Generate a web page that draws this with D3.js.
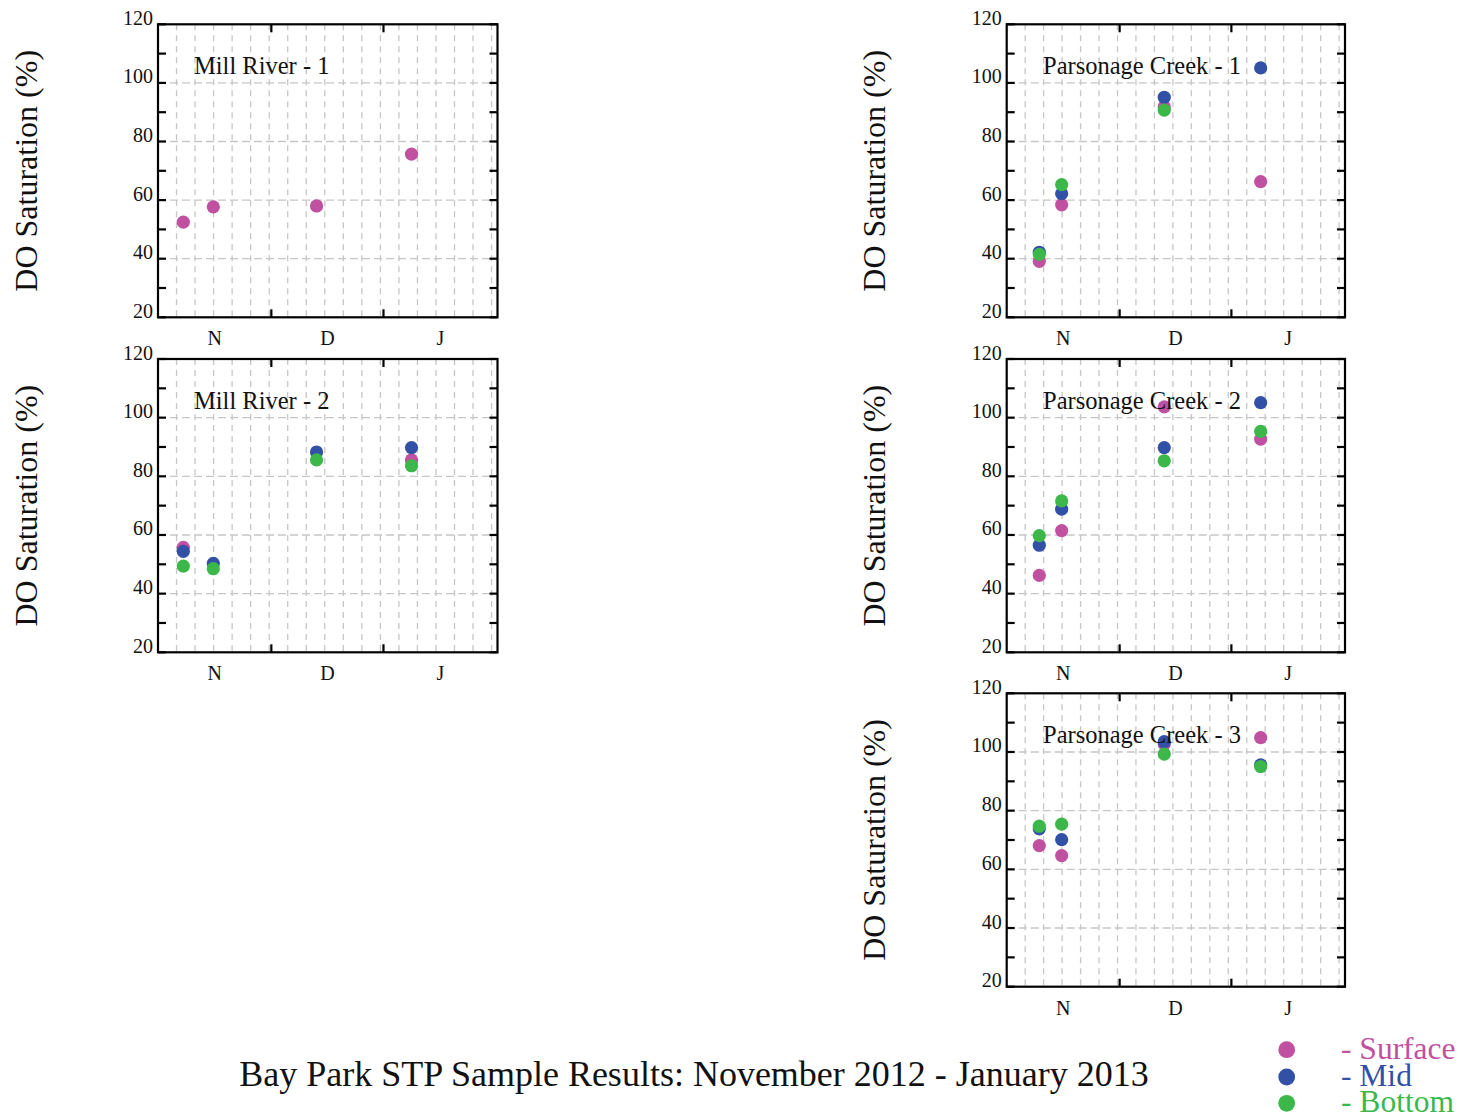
<!DOCTYPE html>
<html>
<head>
<meta charset="utf-8">
<script src="https://cdn.jsdelivr.net/npm/d3@7"></script>
<style>
  html, body { margin: 0; padding: 0; background: #fff; }
  svg { display: block; font-family: "Liberation Serif", "Times New Roman", serif; }
</style>
</head>
<body>
<svg id="chart" width="1465" height="1119"></svg>
<script>
// ---------------- data ----------------
const monthLabels = ["N", "D", "J"];
const monthStarts = ["2012-12-01T00:00Z", "2013-01-01T00:00Z"];
const xDomain = ["2012-10-30T16:00Z", "2013-02-01T12:30Z"];
const yTickValues = [20, 30, 40, 50, 60, 70, 80, 90, 100, 110, 120];
const yLabelValues = [20, 40, 60, 80, 100, 120];
const yGridValues = [40, 60, 80, 100];
const xGridSteps = [1, 2, 3, 4, 5, 6, 7, 8, 9, 10, 11, 12, 13, 14, 15, 16, 17, 18];

const millDates = ["2012-11-06T16:00Z", "2012-11-14T23:00Z", "2012-12-13T12:00Z", "2013-01-08T18:00Z"];
const parsonageDates = ["2012-11-08T17:00Z", "2012-11-14T22:00Z", "2012-12-13T09:00Z", "2013-01-09T03:00Z"];

const mill1Surface = [52.5, 57.7, 58.0, 75.7];

const mill2Surface = [55.8, null, null, 85.6];
const mill2Mid     = [54.4, 50.3, 88.3, 89.8];
const mill2Bottom  = [49.4, 48.5, 85.6, 83.6];

const pc1Surface = [39.1, 58.4, 91.9, 66.3];
const pc1Mid     = [42.2, 62.2, 95.1, 105.1];
const pc1Bottom  = [41.5, 65.3, 90.7, null];

const pc2Surface = [46.2, 61.5, 103.7, 92.7];
const pc2Mid     = [56.5, 68.8, 89.8, 105.1];
const pc2Bottom  = [59.8, 71.6, 85.3, 95.3];

const pc3Surface = [68.1, 64.7, 102.7, 104.9];
const pc3Mid     = [73.8, 70.1, 103.5, 95.6];
const pc3Bottom  = [74.7, 75.4, 99.3, 95.0];

const seriesNames = ["Surface", "Mid", "Bottom"];
const seriesColors = ["#c050a0", "#3350a7", "#3cb84a"];

const chartTitle = "Bay Park STP Sample Results: November 2012 - January 2013";
const yAxisTitle = "DO Saturation (%)";

// ---------------- layout ----------------
const panels = [
  { title: "Mill River - 1", x0: 158, x1: 497.5, y0: 24.3, y1: 317.3, dates: millDates,
    series: [mill1Surface, null, null], titleX: 194 },
  { title: "Mill River - 2", x0: 158, x1: 497.5, y0: 359, y1: 652.3, dates: millDates,
    series: [mill2Surface, mill2Mid, mill2Bottom], titleX: 194 },
  { title: "Parsonage Creek - 1", x0: 1006.7, x1: 1345, y0: 24.3, y1: 317.3, dates: parsonageDates,
    series: [pc1Surface, pc1Mid, pc1Bottom], titleX: 1043 },
  { title: "Parsonage Creek - 2", x0: 1006.7, x1: 1345, y0: 359, y1: 652.3, dates: parsonageDates,
    series: [pc2Surface, pc2Mid, pc2Bottom], titleX: 1043 },
  { title: "Parsonage Creek - 3", x0: 1006.7, x1: 1345, y0: 693.3, y1: 986.7, dates: parsonageDates,
    series: [pc3Surface, pc3Mid, pc3Bottom], titleX: 1043 }
];

const svg = d3.select("#chart");
const parse = s => new Date(s);

panels.forEach(p => {
  const x = d3.scaleUtc().domain(xDomain.map(parse)).range([p.x0, p.x1]);
  const y = d3.scaleLinear().domain([20, 120]).range([p.y1, p.y0]);
  const gx = d3.scaleLinear().domain([0, 18.32]).range([p.x0, p.x1]);
  const g = svg.append("g");

  // grid
  g.selectAll(".vg").data(xGridSteps).join("line")
    .attr("x1", d => gx(d)).attr("x2", d => gx(d))
    .attr("y1", p.y0).attr("y2", p.y1)
    .attr("stroke", "#c6c6c6").attr("stroke-width", 1.3).attr("stroke-dasharray", "6,5");
  g.selectAll(".hg").data(yGridValues).join("line")
    .attr("x1", p.x0).attr("x2", p.x1)
    .attr("y1", d => y(d)).attr("y2", d => y(d))
    .attr("stroke", "#c6c6c6").attr("stroke-width", 1.3).attr("stroke-dasharray", "8,4");

  // points
  p.series.forEach((vals, si) => {
    if (!vals) return;
    const pts = vals.map((v, i) => ({ v, d: parse(p.dates[i]) })).filter(o => o.v != null);
    g.selectAll(null).data(pts).join("circle")
      .attr("cx", o => x(o.d)).attr("cy", o => y(o.v)).attr("r", 6.6)
      .attr("fill", seriesColors[si]);
  });

  // frame
  g.append("rect").attr("x", p.x0).attr("y", p.y0)
    .attr("width", p.x1 - p.x0).attr("height", p.y1 - p.y0)
    .attr("fill", "none").attr("stroke", "#000").attr("stroke-width", 2.2);

  // y ticks (left inward & right inward)
  const tl = 8;
  g.selectAll(".ytl").data(yTickValues).join("line")
    .attr("x1", p.x0).attr("x2", p.x0 + tl)
    .attr("y1", d => y(d)).attr("y2", d => y(d))
    .attr("stroke", "#000").attr("stroke-width", 2.2);
  g.selectAll(".ytr").data(yTickValues).join("line")
    .attr("x1", p.x1).attr("x2", p.x1 - tl)
    .attr("y1", d => y(d)).attr("y2", d => y(d))
    .attr("stroke", "#000").attr("stroke-width", 2.2);
  // x ticks (bottom & top inward)
  const ms = monthStarts.map(parse);
  g.selectAll(".xtb").data(ms).join("line")
    .attr("x1", d => x(d)).attr("x2", d => x(d))
    .attr("y1", p.y1).attr("y2", p.y1 - tl)
    .attr("stroke", "#000").attr("stroke-width", 2.2);
  g.selectAll(".xtt").data(ms).join("line")
    .attr("x1", d => x(d)).attr("x2", d => x(d))
    .attr("y1", p.y0).attr("y2", p.y0 + tl)
    .attr("stroke", "#000").attr("stroke-width", 2.2);

  // y labels
  g.selectAll(".yl").data(yLabelValues).join("text")
    .attr("x", p.x0 - 5).attr("y", d => y(d) + 0.5)
    .attr("text-anchor", "end").attr("font-size", 20).attr("fill", "#111")
    .text(d => d);

  // month labels centred between boundaries
  const bounds = [x.domain()[0], ...ms, x.domain()[1]];
  g.selectAll(".ml").data(monthLabels).join("text")
    .attr("x", (d, i) => (x(bounds[i]) + x(bounds[i + 1])) / 2)
    .attr("y", p.y1 + 28)
    .attr("text-anchor", "middle").attr("font-size", 20).attr("fill", "#111")
    .text(d => d);

  // panel title
  g.append("text").attr("x", p.titleX).attr("y", p.y0 + 50)
    .attr("font-size", 24.5).attr("fill", "#111").text(p.title);

  // y axis title
  const cx = p.x0 < 500 ? 37 : 885;
  const cy = (p.y0 + p.y1) / 2;
  g.append("text")
    .attr("transform", `translate(${cx},${cy}) rotate(-90)`)
    .attr("text-anchor", "middle").attr("font-size", 32).attr("fill", "#111")
    .text(yAxisTitle);
});

// chart title
svg.append("text").attr("x", 694).attr("y", 1086)
  .attr("text-anchor", "middle").attr("font-size", 36).attr("fill", "#111")
  .text(chartTitle);

// legend
const legY = [1049.7, 1077, 1103.3];
const lg = svg.append("g");
lg.selectAll("circle").data(seriesNames).join("circle")
  .attr("cx", 1286.7).attr("cy", (d, i) => legY[i]).attr("r", 8.4)
  .attr("fill", (d, i) => seriesColors[i]);
lg.selectAll("text").data(seriesNames).join("text")
  .attr("x", 1341).attr("y", (d, i) => legY[i] + 9)
  .attr("font-size", 31.5).attr("fill", (d, i) => seriesColors[i])
  .text(d => "- " + d);
</script>
</body>
</html>
